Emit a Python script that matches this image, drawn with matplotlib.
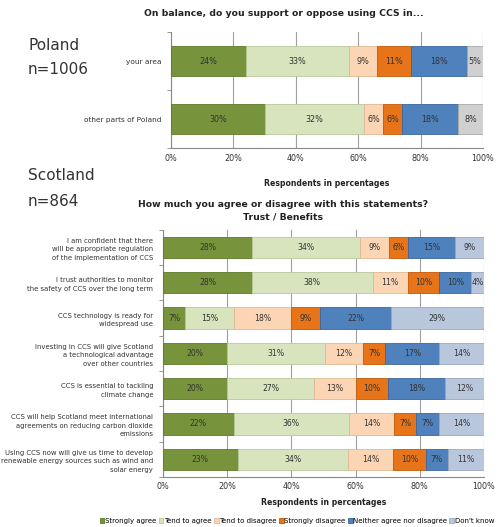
import matplotlib
matplotlib.use("Agg")
import matplotlib.pyplot as plt
import numpy as np

# ---- data ----
categories = ["Strongly agree", "Tend to agree", "Tend to disagree",
              "Strongly disagree", "Neither agree nor disagree", "Don't know"]

poland_rows = ["your area", "other parts of Poland"]
poland_vals = [
    [24, 33, 9, 11, 18, 5],
    [30, 32, 6, 6, 18, 8],
]

scot_rows = [
    "I am confident that there\nwill be appropriate regulation\nof the implementation of CCS",
    "I trust authorities to monitor\nthe safety of CCS over the long term",
    "CCS technology is ready for\nwidespread use",
    "Investing in CCS will give Scotland\na technological advantage\nover other countries",
    "CCS is essential to tackling\nclimate change",
    "CCS will help Scotland meet international\nagreements on reducing carbon dioxide\nemissions",
    "Using CCS now will give us time to develop\nrenewable energy sources such as wind and\nsolar energy",
]
scot_vals = [
    [28, 34, 9, 6, 15, 9],
    [28, 38, 11, 10, 10, 4],
    [7, 15, 18, 9, 22, 29],
    [20, 31, 12, 7, 17, 14],
    [20, 27, 13, 10, 18, 12],
    [22, 36, 14, 7, 7, 14],
    [23, 34, 14, 10, 7, 11],
]

ticks = [0, 20, 40, 60, 80, 100]
tick_labels = ["0%", "20%", "40%", "60%", "80%", "100%"]

colors_scot = ["#77933C", "#D7E4BD", "#FCD5B5", "#E8741A", "#4F81BD", "#B9C7DD"]
colors_pol = ["#77933C", "#D7E4BD", "#FCD5B5", "#E8741A", "#4F81BD", "#D0D0D0"]
edge_scot = ["#5E7A2A", "#B7C99A", "#E0B894", "#C05A08", "#3A66A0", "#9AA8C0"]
edge_pol = ["#5E7A2A", "#B7C99A", "#E0B894", "#C05A08", "#3A66A0", "#A8A8A8"]

fig = plt.figure(figsize=(5.03, 5.27), dpi=100)


def draw(ax, rows, vals, colors, edges, height, label_fs, ytick_fs):
    n = len(rows)
    vals = np.array(vals, dtype=float)
    norm = vals / vals.sum(axis=1, keepdims=True) * 100
    y = np.arange(n)
    left = np.zeros(n)
    for j in range(len(categories)):
        w = norm[:, j]
        ax.barh(y, w, left=left, height=height, color=colors[j],
                edgecolor=edges[j], linewidth=0.6, zorder=3,
                label=categories[j])
        for i in range(n):
            ax.text(left[i] + w[i] / 2, y[i], f"{int(vals[i, j])}%",
                    ha="center", va="center", fontsize=label_fs,
                    color="#333333", zorder=4)
        left += w
    ax.set_ylim(n - 0.5, -0.5)
    ax.set_xlim(0, 100)
    ax.set_yticks(y)
    ax.set_yticklabels(rows, fontsize=ytick_fs, color="#333333",
                       linespacing=1.5)
    ax.set_yticks(np.arange(n + 1) - 0.5, minor=True)
    ax.tick_params(axis="y", which="major", length=0, pad=7)
    ax.tick_params(axis="y", which="minor", length=3, color="#888888")
    ax.set_xticks(ticks)
    ax.set_xticklabels(tick_labels, fontsize=5.8, color="#333333")
    ax.tick_params(axis="x", length=0, pad=4)
    ax.grid(axis="x", color="#A0A0A0", linewidth=0.8, zorder=0)
    for s in ["top", "right"]:
        ax.spines[s].set_visible(False)
    for s in ["left", "bottom"]:
        ax.spines[s].set_color("#888888")
        ax.spines[s].set_linewidth(0.8)
    ax.set_xlabel("Respondents in percentages", fontsize=5.6,
                  fontweight="bold", color="#222222")


ax1 = fig.add_axes([0.340, 0.719, 0.620, 0.220])
draw(ax1, poland_rows, poland_vals, colors_pol, edge_pol, 0.53, 5.8, 5.3)
ax1.xaxis.set_label_coords(0.5, -0.27)

ax2 = fig.add_axes([0.324, 0.095, 0.638, 0.469])
draw(ax2, scot_rows, scot_vals, colors_scot, edge_scot, 0.6, 5.6, 4.95)
ax2.xaxis.set_label_coords(0.5, -0.085)

fig.text(284 / 503, 1 - 14 / 527,
         "On balance, do you support or oppose using CCS in...",
         fontsize=6.7, fontweight="bold", color="#222222",
         ha="center", va="center")
fig.text(283 / 503, 1 - 211 / 527,
         "How much you agree or disagree with this statements?\nTrust / Benefits",
         fontsize=6.7, fontweight="bold", color="#222222",
         ha="center", va="center", linespacing=1.45)

handles, labels = ax2.get_legend_handles_labels()
fig.legend(handles, labels, loc="center", bbox_to_anchor=(297 / 503, 1 - 521 / 527),
           ncol=6, fontsize=5.0, frameon=False, handlelength=0.7,
           handleheight=0.7, handletextpad=0.1, columnspacing=0.3,
           borderaxespad=0)

for txt, yy in [("Poland", 45), ("n=1006", 70), ("Scotland", 176), ("n=864", 201)]:
    fig.text(28 / 503, 1 - yy / 527, txt, fontsize=11, color="#333333",
             va="center", ha="left")

fig.savefig("out.png", dpi=100)
